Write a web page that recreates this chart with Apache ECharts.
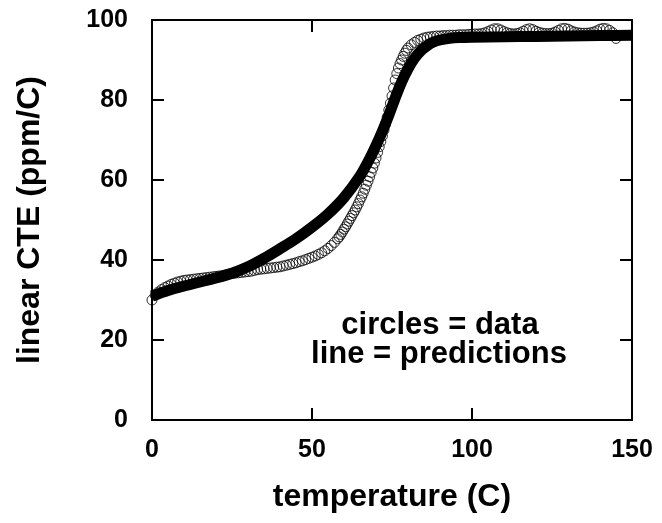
<!DOCTYPE html>
<html>
<head>
<meta charset="utf-8">
<script src="https://cdn.jsdelivr.net/npm/echarts@6/dist/echarts.min.js"></script>
<style>
html,body{margin:0;padding:0;background:#fff;}
#chart{width:662px;height:523px;}
</style>
</head>
<body>
<div id="chart"></div>
<script>
// measured data (circles)
var dataTemp = [0,1,2,3,4,5,6,7,8,9,10,11,12,13,14,15,16,17,18,19,20,21,22,23,24,25,26,27,28,29,30,31,32,33,34,35,36,37,38,39,40,41,42,43,44,45,46,47,48,49,50,51,52,53,54,55,56,57,
  58,58.5,59,59.5,60,60.5,61,61.5,62,62.5,63,63.5,64,64.5,65,65.5,66,66.5,67,67.5,68,68.5,69,69.5,70,70.5,71,71.5,72,72.5,73,73.5,74,74.5,75,75.5,76,76.5,77,77.5,78,78.5,79,79.5,80,
  81,82,83,84,85,86,87,88,89,90,91,92,93,94,95,96,97,98,99,100,101,102,103,104,105,106,107,108,109,110,111,112,113,114,115,116,117,118,119,120,121,122,123,124,125,126,127,128,129,130,131,132,133,134,135,136,137,138,139,140,141,142,143,144,145];
var dataCte = [30.0,31.2,32.0,32.6,33.1,33.5,33.9,34.2,34.5,34.7,34.9,35.0,35.1,35.2,35.3,35.4,35.5,35.6,35.7,35.8,35.9,36.0,36.1,36.3,36.5,36.6,36.7,36.8,36.9,37.0,37.1,37.2,37.4,37.6,37.7,37.8,37.9,38.0,38.1,38.2,38.3,38.5,38.7,38.9,39.1,39.3,39.6,39.8,40.1,40.4,40.7,41.0,41.4,41.8,42.3,42.9,43.6,44.4,
  45.3,45.8,46.4,47.0,47.7,48.3,49.0,49.7,50.4,51.1,51.8,52.5,53.3,54.1,55.0,55.8,56.7,57.7,58.7,59.7,60.8,61.9,63.0,64.2,65.5,66.9,68.3,69.6,71.0,72.5,74.0,75.7,77.5,79.2,81.0,83.0,85.0,86.6,88.0,89.1,90.0,90.9,91.7,92.4,93.0,
  93.8,94.4,94.9,95.2,95.5,95.7,95.8,95.9,96.0,96.0,96.1,96.1,96.2,96.2,96.2,96.3,96.3,96.3,96.4,96.4,96.5,96.5,96.6,96.8,97.1,97.5,97.8,97.8,97.5,97.1,96.8,96.6,96.5,96.6,96.8,97.2,97.6,97.8,97.6,97.2,96.9,96.7,96.6,96.6,96.7,97.0,97.4,97.8,97.9,97.7,97.3,97.0,96.8,96.7,96.7,96.7,96.8,97.0,97.3,97.7,97.9,97.8,97.4,96.8,95.4];
// model predictions (line)
var predTemp = [0,5,10,15,20,25,30,35,40,45,50,55,60,65,68,70,72,74,76,78,80,82,84,86,88,90,93,96,100,110,120,130,140,150];
var predCte  = [31.0,32.4,33.5,34.5,35.5,36.7,38.3,40.4,42.8,45.3,48.2,51.5,55.6,61.0,65.3,68.6,72.2,76.2,80.5,84.5,87.8,90.4,92.3,93.6,94.5,95.0,95.4,95.6,95.7,95.8,95.9,96.0,96.1,96.2];
var xTicks = [0,50,100,150];
var yTicks = [0,20,40,60,80,100];
var xTitle = 'temperature (C)';
var yTitle = 'linear CTE (ppm/C)';
var noteLines = ['circles = data', 'line = predictions'];

function zip(a,b){var r=[];for(var i=0;i<a.length;i++)r.push([a[i],b[i]]);return r;}
var FONT = '"Liberation Sans", Arial, sans-serif';
var chart = echarts.init(document.getElementById('chart'), null, {renderer:'canvas'});
var axisBase = {
  axisLine:{show:true,onZero:false,lineStyle:{color:'#000',width:2}},
  axisTick:{show:true,inside:true,length:12,lineStyle:{color:'#000',width:2}},
  splitLine:{show:false}
};
chart.setOption({
  animation:false,
  backgroundColor:'#fff',
  grid:{left:152,right:30,top:20,bottom:103,containLabel:false},
  xAxis:[
    Object.assign({type:'value',min:xTicks[0],max:xTicks[xTicks.length-1],interval:50,position:'bottom',
      name:xTitle,nameLocation:'middle',nameGap:61,
      nameTextStyle:{fontFamily:FONT,fontWeight:'bold',fontSize:32,color:'#000'},
      axisLabel:{margin:18,fontFamily:FONT,fontWeight:'bold',fontSize:25,color:'#000'}},axisBase),
    Object.assign({type:'value',min:xTicks[0],max:xTicks[xTicks.length-1],interval:50,position:'top',
      axisLabel:{show:false}},axisBase)
  ],
  yAxis:[
    Object.assign({type:'value',min:yTicks[0],max:yTicks[yTicks.length-1],interval:20,position:'left',
      name:yTitle,nameLocation:'middle',nameGap:106,
      nameTextStyle:{fontFamily:FONT,fontWeight:'bold',fontSize:32,color:'#000'},
      axisLabel:{margin:24,fontFamily:FONT,fontWeight:'bold',fontSize:25,color:'#000'}},axisBase),
    Object.assign({type:'value',min:yTicks[0],max:yTicks[yTicks.length-1],interval:20,position:'right',
      axisLabel:{show:false}},axisBase)
  ],
  series:[
    {type:'line',xAxisIndex:0,yAxisIndex:0,data:zip(predTemp,predCte),showSymbol:false,smooth:0.3,
      lineStyle:{color:'#000',width:11},z:2},
    {type:'scatter',xAxisIndex:0,yAxisIndex:0,data:zip(dataTemp,dataCte),symbol:'circle',symbolSize:10,
      itemStyle:{color:'rgba(255,255,255,0)',borderColor:'#000',borderWidth:1},z:3}
  ],
  graphic:[
    {type:'text',x:440,y:325,style:{text:noteLines[0],fontFamily:FONT,fontWeight:'bold',fontSize:31,fill:'#000',textAlign:'center',textVerticalAlign:'middle'}},
    {type:'text',x:439,y:354,style:{text:noteLines[1],fontFamily:FONT,fontWeight:'bold',fontSize:31,fill:'#000',textAlign:'center',textVerticalAlign:'middle'}}
  ]
});
</script>
</body>
</html>
